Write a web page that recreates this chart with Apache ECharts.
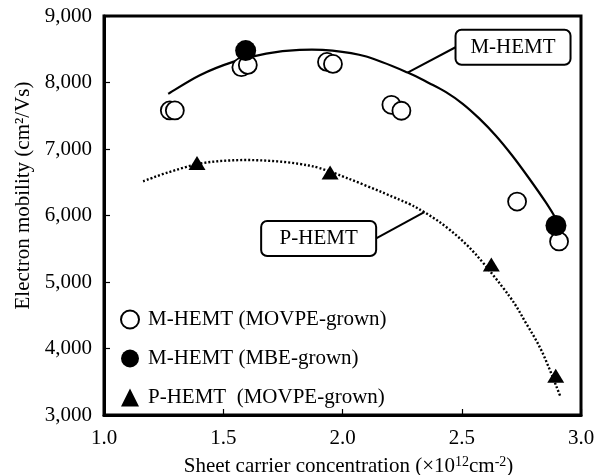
<!DOCTYPE html>
<html>
<head>
<meta charset="utf-8">
<script src="https://cdn.jsdelivr.net/npm/echarts@6/dist/echarts.min.js"></script>
<style>
html,body{margin:0;padding:0;background:#fff;}
#c{width:603px;height:475px;}
</style>
</head>
<body>
<div id="c"></div>
<script>
// ---- data ----
const xTicks = [1.0, 1.5, 2.0, 2.5, 3.0];
const yTicks = [3000, 4000, 5000, 6000, 7000, 8000, 9000];

const mMovpeX = [1.276, 1.297, 1.576, 1.603, 1.935, 1.960, 2.205, 2.247, 2.732, 2.908];
const mMovpeY = [7580, 7580, 8230, 8265, 8310, 8280, 7665, 7575, 6210, 5610];

const mMbeX = [1.594, 2.895];
const mMbeY = [8480, 5850];

const pMovpeX = [1.390, 1.948, 2.624, 2.894];
const pMovpeY = [6790, 6645, 5265, 3590];

const mCurveX = [1.269, 1.402, 1.541, 1.680, 1.820, 1.958, 2.100, 2.273, 2.364, 2.434, 2.504, 2.573, 2.643, 2.713, 2.782, 2.852, 2.893];
const mCurveY = [7830, 8110, 8310, 8435, 8490, 8480, 8390, 8150, 7990, 7855, 7680, 7460, 7200, 6895, 6560, 6200, 5965];

const pCurveX = [1.164, 1.262, 1.402, 1.541, 1.681, 1.820, 1.948, 2.238, 2.343, 2.448, 2.559, 2.699, 2.768, 2.838, 2.915];
const pCurveY = [6515, 6640, 6780, 6830, 6825, 6775, 6660, 6240, 6050, 5790, 5415, 4790, 4390, 3940, 3265];

const seriesNames = ['M-HEMT (MOVPE-grown)', 'M-HEMT (MBE-grown)', 'P-HEMT  (MOVPE-grown)'];
const calloutLabels = ['M-HEMT', 'P-HEMT'];
// callout anchors in data coordinates: [box centre], [point on curve]
const calloutBox = [[2.715, 8530], [1.900, 5655]];
const calloutTip = [[2.273, 8150], [2.343, 6050]];

const zip = (xs, ys) => xs.map((x, i) => [x, ys[i]]);
const FONT = 'Liberation Serif';

// smooth curve (Catmull-Rom) through points mapped by the axis scales
function curveSeries(xs, ys, lineStyle) {
  return {
    type: 'custom', silent: true, z: 1,
    data: zip(xs, ys), encode: { x: 0, y: 1 },
    renderItem: function (params, api) {
      if (params.dataIndex !== 0) return null;
      const p = xs.map((x, i) => api.coord([x, ys[i]]));
      let d = 'M' + p[0][0] + ' ' + p[0][1];
      for (let i = 0; i < p.length - 1; i++) {
        const p0 = p[Math.max(i - 1, 0)], p1 = p[i], p2 = p[i + 1], p3 = p[Math.min(i + 2, p.length - 1)];
        const c1 = [p1[0] + (p2[0] - p0[0]) / 6, p1[1] + (p2[1] - p0[1]) / 6];
        const c2 = [p2[0] - (p3[0] - p1[0]) / 6, p2[1] - (p3[1] - p1[1]) / 6];
        d += ' C' + c1[0] + ' ' + c1[1] + ' ' + c2[0] + ' ' + c2[1] + ' ' + p2[0] + ' ' + p2[1];
      }
      return { type: 'path', shape: { pathData: d }, style: Object.assign({ fill: 'none', stroke: '#000' }, lineStyle) };
    }
  };
}

const chart = echarts.init(document.getElementById('c'));
const option = {
  backgroundColor: '#fff',
  animation: false,
  grid: { left: 104, right: 22, top: 16, bottom: 60, show: true, borderColor: '#000', borderWidth: 3,
          containLabel: false, outerBoundsMode: 'none' },
  legend: {
    orient: 'vertical', left: 115, top: 304, itemWidth: 18, itemHeight: 18, itemGap: 18,
    data: seriesNames,
    textStyle: { fontFamily: FONT, fontSize: 21, color: '#000', padding: [0, 0, 0, 4] }
  },
  xAxis: {
    type: 'value', min: 1.0, max: 3.0, interval: 0.5,
    splitLine: { show: false },
    axisLine: { lineStyle: { color: '#000', width: 3 } },
    axisTick: { inside: true, length: 6, lineStyle: { color: '#000', width: 1.2 } },
    axisLabel: { fontFamily: FONT, fontSize: 21, color: '#000', margin: 13, formatter: v => v.toFixed(1) },
    name: '{t|Sheet carrier concentration (×10}{s|12}{t|cm}{s|-2}{t|)}',
    nameLocation: 'middle', nameGap: 40,
    nameTextStyle: {
      padding: [0, 0, 0, 12],
      rich: {
        t: { fontFamily: FONT, fontSize: 21, color: '#000', lineHeight: 22, verticalAlign: 'bottom' },
        s: { fontFamily: FONT, fontSize: 14, color: '#000', lineHeight: 22, verticalAlign: 'top' }
      }
    }
  },
  yAxis: {
    type: 'value', min: 3000, max: 9000, interval: 1000,
    splitLine: { show: false },
    axisLine: { lineStyle: { color: '#000', width: 3 } },
    axisTick: { inside: true, length: 6, lineStyle: { color: '#000', width: 1.2 } },
    axisLabel: { fontFamily: FONT, fontSize: 21, color: '#000', margin: 12, formatter: v => v.toLocaleString('en-US') },
    name: 'Electron mobility (cm²/Vs)',
    nameLocation: 'middle', nameGap: 67,
    nameTextStyle: { fontFamily: FONT, fontSize: 21, color: '#000', padding: [0, 0, 0, 40] }
  },
  series: [
    curveSeries(mCurveX, mCurveY, { lineWidth: 2.2 }),
    curveSeries(pCurveX, pCurveY, { lineWidth: 2.4, lineDash: [2, 2] }),
    { type: 'scatter', name: seriesNames[0], data: zip(mMovpeX, mMovpeY), symbol: 'circle', symbolSize: 18,
      itemStyle: { color: '#fff', borderColor: '#000', borderWidth: 1.8, opacity: 1 }, z: 3 },
    { type: 'scatter', name: seriesNames[1], data: zip(mMbeX, mMbeY), symbol: 'circle', symbolSize: 21,
      itemStyle: { color: '#000', borderColor: '#000', borderWidth: 0, opacity: 1 }, z: 4 },
    { type: 'scatter', name: seriesNames[2], data: zip(pMovpeX, pMovpeY), symbol: 'triangle', symbolSize: [17, 14],
      itemStyle: { color: '#000', opacity: 1 }, z: 4 }
  ]
};
chart.setOption(option);

// callouts: rounded boxes with leader lines, positioned from data coordinates
const boxW = 115, boxH = 35;
const elements = [];
calloutLabels.forEach((lab, i) => {
  const c = chart.convertToPixel({ gridIndex: 0 }, calloutBox[i]);
  const t = chart.convertToPixel({ gridIndex: 0 }, calloutTip[i]);
  const x0 = c[0] - boxW / 2, y0 = c[1] - boxH / 2;
  const sx = t[0] < c[0] ? x0 : x0 + boxW;
  elements.push({ type: 'line', z: 10, shape: { x1: sx, y1: c[1], x2: t[0], y2: t[1] }, style: { stroke: '#000', lineWidth: 2 } });
  elements.push({ type: 'rect', z: 11, shape: { x: x0, y: y0, width: boxW, height: boxH, r: 6 },
    style: { fill: '#fff', stroke: '#000', lineWidth: 2 } });
  elements.push({ type: 'text', z: 12, x: c[0], y: c[1],
    style: { text: lab, font: '21px ' + FONT, fill: '#000', align: 'center', verticalAlign: 'middle' } });
});
chart.setOption({ graphic: { elements } });
</script>
</body>
</html>
